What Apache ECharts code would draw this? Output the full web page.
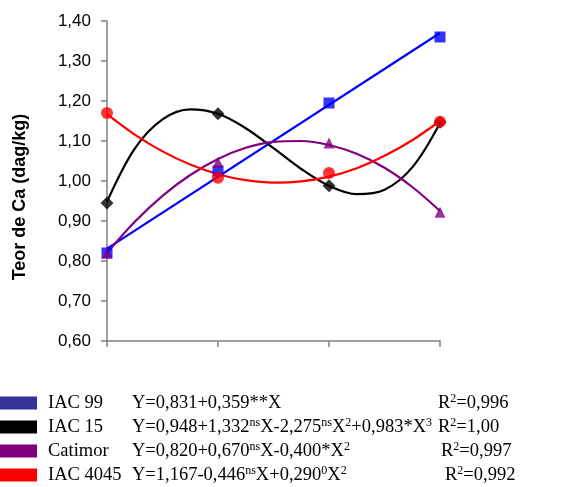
<!DOCTYPE html>
<html>
<head>
<meta charset="utf-8">
<title>Teor de Ca</title>
<script src="https://cdn.jsdelivr.net/npm/echarts@6/dist/echarts.min.js"></script>
<style>
  html, body { margin: 0; padding: 0; background: #fff; }
  #chart { width: 576px; height: 487px; }
</style>
</head>
<body>
<div id="chart"></div>
<script>
// cultivares
var cultivares = ['IAC 99', 'IAC 15', 'Catimor', 'IAC 4045'];

// pontos observados (4 épocas)
var xObs = [0, 0.5, 1, 1.5];
var obsIAC99 = [0.82, 1.025, 1.195, 1.36];
var obsIAC15 = [0.945, 1.168, 0.988, 1.147];
var obsCatimor = [0.82, 1.047, 1.095, 0.922];
var obsIAC4045 = [1.17, 1.008, 1.02, 1.148];

// curvas ajustadas
var xCurva = [0, 0.125, 0.25, 0.375, 0.5, 0.625, 0.75, 0.875, 1, 1.125, 1.25, 1.375, 1.5];
var curvaIAC15 = [0.948, 1.081, 1.154, 1.179, 1.168, 1.132, 1.082, 1.030, 0.988, 0.967, 0.978, 1.034, 1.145];
var curvaCatimor = [0.820, 0.898, 0.963, 1.015, 1.055, 1.083, 1.098, 1.100, 1.090, 1.068, 1.033, 0.985, 0.925];
var curvaIAC4045 = [1.167, 1.116, 1.074, 1.041, 1.017, 1.002, 0.996, 0.999, 1.011, 1.032, 1.063, 1.102, 1.150];
var xReta = [0, 1.5];
var retaIAC99 = [0.831, 1.370];

// equações e R²
var equacoes = [
  'Y=0,831+0,359**X',
  'Y=0,948+1,332^{ns}X-2,275^{ns}X^{2}+0,983*X^{3}',
  'Y=0,820+0,670^{ns}X-0,400*X^{2}',
  'Y=1,167-0,446^{ns}X+0,290^{0}X^{2}'
];
var r2 = ['0,996', '1,00', '0,997', '0,992'];

// eixo Y
var yMin = 0.6, yMax = 1.4, yStep = 0.1;

var corLinha = ['#0000ff', '#000000', '#800080', '#ff0000'];
var corLegenda = ['#333399', '#000000', '#800080', '#ff0000'];
var simbolos = ['rect', 'diamond', 'triangle', 'circle'];
var tamanhos = [11, 13, 11, 12];

function pares(xs, ys) {
  return xs.map(function (x, i) { return [x, ys[i]]; });
}

var curvas = [pares(xReta, retaIAC99), pares(xCurva, curvaIAC15), pares(xCurva, curvaCatimor), pares(xCurva, curvaIAC4045)];
var pontos = [pares(xObs, obsIAC99), pares(xObs, obsIAC15), pares(xObs, obsCatimor), pares(xObs, obsIAC4045)];

var series = [];
cultivares.forEach(function (nome, i) {
  series.push({
    name: nome,
    type: 'line',
    data: curvas[i],
    smooth: i === 0 ? false : 0.35,
    showSymbol: false,
    lineStyle: { color: corLinha[i], width: 2.2 },
    itemStyle: { color: corLegenda[i] },
    z: 2
  });
});
cultivares.forEach(function (nome, i) {
  series.push({
    name: nome,
    type: 'scatter',
    data: pontos[i],
    symbol: simbolos[i],
    symbolSize: tamanhos[i],
    itemStyle: { color: corLinha[i] },
    z: 3
  });
});

function eqRich(txt) {
  return txt.replace(/\^\{([^}]*)\}/g, '{s|$1}');
}

var chart = echarts.init(document.getElementById('chart'), null, { renderer: 'canvas' });
chart.setOption({
  animation: false,
  backgroundColor: '#ffffff',
  grid: { left: 107, right: 136, top: 21, bottom: 146 },
  xAxis: {
    type: 'value',
    min: 0, max: 1.5, interval: 0.5,
    axisLine: { show: true, lineStyle: { color: '#808080', width: 1.5 } },
    axisTick: { show: true, length: 6, lineStyle: { color: '#808080', width: 1.5 } },
    axisLabel: { show: false },
    splitLine: { show: false }
  },
  yAxis: {
    type: 'value',
    min: yMin, max: yMax, interval: yStep,
    axisLine: { show: true, lineStyle: { color: '#808080', width: 1.5 } },
    axisTick: { show: true, length: 6, lineStyle: { color: '#808080', width: 1.5 } },
    axisLabel: {
      margin: 16,
      color: '#000',
      fontFamily: 'Liberation Sans',
      fontSize: 17,
      formatter: function (v) { return v.toFixed(2).replace('.', ','); }
    },
    splitLine: { show: false }
  },
  legend: {
    orient: 'vertical',
    left: 0,
    top: 393,
    height: 110,
    padding: 0,
    itemWidth: 37,
    itemHeight: 13,
    itemGap: 4,
    icon: 'rect',
    selectedMode: false,
    data: cultivares.map(function (n, i) {
      return { name: n, icon: 'rect', itemStyle: { color: corLegenda[i], borderWidth: 0 } };
    }),
    formatter: function (name) {
      var i = cultivares.indexOf(name);
      return '{n|' + name + '}' + eqRich(equacoes[i]);
    },
    textStyle: {
      color: '#000',
      fontFamily: 'Liberation Serif',
      fontSize: 18.5,
      lineHeight: 20,
      rich: {
        n: { fontFamily: 'Liberation Serif', fontSize: 18.5, lineHeight: 20, width: 84, padding: [0, 0, 0, 6], color: '#000' },
        s: { fontFamily: 'Liberation Serif', fontSize: 12, lineHeight: 12, verticalAlign: 'top', color: '#000' }
      }
    }
  },
  graphic: [
    {
      type: 'text',
      x: 20, y: 197,
      rotation: Math.PI / 2,
      style: {
        text: 'Teor de Ca (dag/kg)',
        font: 'bold 18px "Liberation Sans"',
        fill: '#000',
        textAlign: 'center',
        textVerticalAlign: 'middle'
      }
    }
  ].concat(r2.map(function (v, i) {
    var xs = [438, 438, 441, 445];
    var ys = [403, 427, 451, 475];
    return {
      type: 'text',
      x: xs[i], y: ys[i],
      style: {
        text: '{t|R}{s|2}{t|=' + v + '}',
        textVerticalAlign: 'middle',
        fill: '#000',
        rich: {
          t: { fontFamily: 'Liberation Serif', fontSize: 18.5, lineHeight: 20, fill: '#000', color: '#000' },
          s: { fontFamily: 'Liberation Serif', fontSize: 12, lineHeight: 12, verticalAlign: 'top', fill: '#000', color: '#000' }
        }
      }
    };
  })),
  series: series
});
</script>
</body>
</html>
